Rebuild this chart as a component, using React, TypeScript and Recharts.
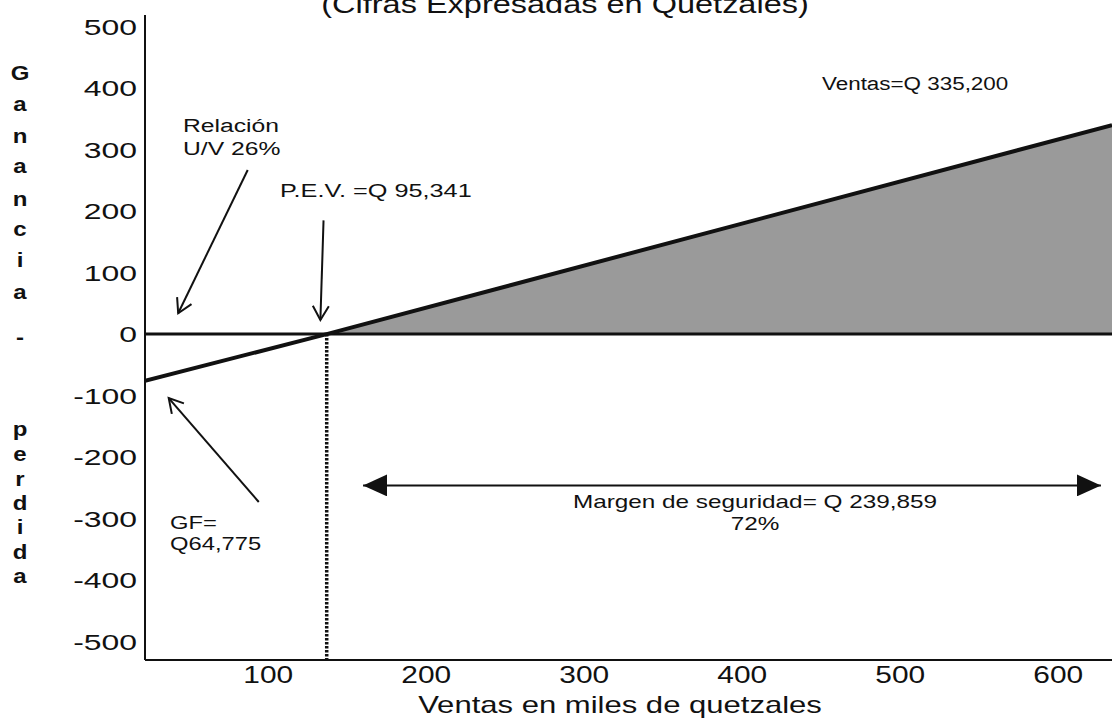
import React from 'react'
import { Area, ComposedChart, Line, ReferenceLine, XAxis, YAxis } from 'recharts'

// ventas (miles de Q) y resultado (ganancia / perdida)
const ventas = [22, 137, 634]
const resultado = [-76, 0, 340]
const zonaGanancia = [null, 0, 340]

const xTicks = [100, 200, 300, 400, 500, 600]
const yTicks = [500, 400, 300, 200, 100, 0, -100, -200, -300, -400, -500]

const puntoEquilibrio = 137

// flechas de anotacion: [desde, hasta] en unidades del grafico
const flechaRelacion = [{ x: 87, y: 267 }, { x: 43, y: 34 }]
const flechaPev = [{ x: 135, y: 185 }, { x: 133, y: 23 }]
const flechaGf = [{ x: 94, y: -273 }, { x: 37, y: -104 }]
const flechaMargen = [{ x: 160, y: -246 }, { x: 627, y: -246 }]

const FONT = '"Liberation Sans", Arial, sans-serif'

const data = ventas.map((v, i) => ({
  ventas: v,
  resultado: resultado[i],
  zona: zonaGanancia[i],
}))

function Txt({ x, y, size, sx = 1.3, anchor = 'start', bold = false, children }: any) {
  return (
    <g transform={`translate(${x},${y})`}>
      <text
        transform={`scale(${sx},1)`}
        fontSize={size}
        fontFamily={FONT}
        fontWeight={bold ? 700 : 400}
        textAnchor={anchor}
        fill="#111"
      >
        {children}
      </text>
    </g>
  )
}

function XTick({ x, y, payload }: any) {
  return (
    <Txt x={x} y={Number(y) + 15} size={23} sx={1.3} anchor="middle">
      {payload.value}
    </Txt>
  )
}

function YTick({ x, y, payload }: any) {
  return (
    <Txt x={x} y={Number(y) + 8} size={22} sx={1.45} anchor="end">
      {payload.value}
    </Txt>
  )
}

const letrasEje: Array<[string, number]> = [
  ['G', 80], ['a', 111], ['n', 143], ['a', 173], ['n', 206], ['c', 236], ['i', 267], ['a', 299],
  ['-', 344],
  ['p', 436], ['e', 461], ['r', 486], ['d', 510], ['i', 534], ['d', 559], ['a', 583],
]

export default function App() {
  return (
    <div style={{ position: 'absolute', left: 0, top: 0, width: 1112, height: 719, overflow: 'hidden', background: '#fff' }}>
      <svg width={0} height={0} style={{ position: 'absolute' }}>
        <defs>
          <marker id="flechaAbierta" markerUnits="userSpaceOnUse" markerWidth={20} markerHeight={20} viewBox="0 0 20 20" refX={18} refY={10} orient="auto">
            <path d="M4,2 L18,10 L4,18" fill="none" stroke="#111" strokeWidth={2} />
          </marker>
          <marker id="flechaLlena" markerUnits="userSpaceOnUse" markerWidth={24} markerHeight={22} viewBox="0 0 24 22" refX={24} refY={11} orient="auto-start-reverse">
            <path d="M0,0 L24,11 L0,22 Z" fill="#111" />
          </marker>
        </defs>
      </svg>
      <ComposedChart width={1112} height={719} data={data} margin={{ top: 15, right: 0, bottom: 0, left: 0 }}>
        <XAxis
          dataKey="ventas"
          type="number"
          domain={[22, 634]}
          ticks={xTicks}
          allowDataOverflow
          height={59}
          tickLine={false}
          tickSize={6}
          tickMargin={2}
          axisLine={{ stroke: '#111', strokeWidth: 2 }}
          tick={<XTick />}
        />
        <YAxis
          type="number"
          domain={[-530, 519]}
          ticks={yTicks}
          allowDataOverflow
          width={145}
          tickLine={false}
          tickSize={6}
          tickMargin={2}
          axisLine={{ stroke: '#111', strokeWidth: 2 }}
          tick={<YTick />}
        />
        <Area
          dataKey="zona"
          type="linear"
          baseValue={0}
          fill="#9a9a9a"
          fillOpacity={1}
          stroke="none"
          isAnimationActive={false}
        />
        <ReferenceLine y={0} stroke="#111" strokeWidth={3} />
        <ReferenceLine
          segment={[{ x: puntoEquilibrio, y: 0 }, { x: puntoEquilibrio, y: -530 }]}
          stroke="#111"
          strokeWidth={3.5}
          strokeDasharray="2.5 1.5"
        />
        <Line dataKey="resultado" type="linear" stroke="#111" strokeWidth={4} dot={false} isAnimationActive={false} />
        <ReferenceLine segment={flechaRelacion} stroke="#111" strokeWidth={2} markerEnd="url(#flechaAbierta)" />
        <ReferenceLine segment={flechaPev} stroke="#111" strokeWidth={2} markerEnd="url(#flechaAbierta)" />
        <ReferenceLine segment={flechaGf} stroke="#111" strokeWidth={2} markerEnd="url(#flechaAbierta)" />
        <ReferenceLine
          segment={flechaMargen}
          stroke="#111"
          strokeWidth={2}
          markerStart="url(#flechaLlena)"
          markerEnd="url(#flechaLlena)"
        />
      </ComposedChart>
      <svg width={1112} height={719} style={{ position: 'absolute', left: 0, top: 0, pointerEvents: 'none' }}>
        <Txt x={565} y={13} size={26} sx={1.25} anchor="middle">(Cifras Expresadas en Quetzales)</Txt>
        {letrasEje.map(([l, y], i) => (
          <Txt key={i} x={20} y={y} size={20} sx={1.2} anchor="middle" bold>{l}</Txt>
        ))}
        <Txt x={183} y={132} size={19} sx={1.3}>Relación</Txt>
        <Txt x={183} y={155} size={19} sx={1.3}>U/V 26%</Txt>
        <Txt x={280} y={197} size={19} sx={1.33}>P.E.V. =Q 95,341</Txt>
        <Txt x={822} y={90} size={19} sx={1.18}>Ventas=Q 335,200</Txt>
        <Txt x={170} y={529} size={19} sx={1.25}>GF=</Txt>
        <Txt x={170} y={550} size={19} sx={1.25}>Q64,775</Txt>
        <Txt x={755} y={508} size={19} sx={1.28} anchor="middle">Margen de seguridad= Q 239,859</Txt>
        <Txt x={755} y={530} size={19} sx={1.28} anchor="middle">72%</Txt>
        <Txt x={620} y={713} size={23} sx={1.35} anchor="middle">Ventas en miles de quetzales</Txt>
      </svg>
    </div>
  )
}
